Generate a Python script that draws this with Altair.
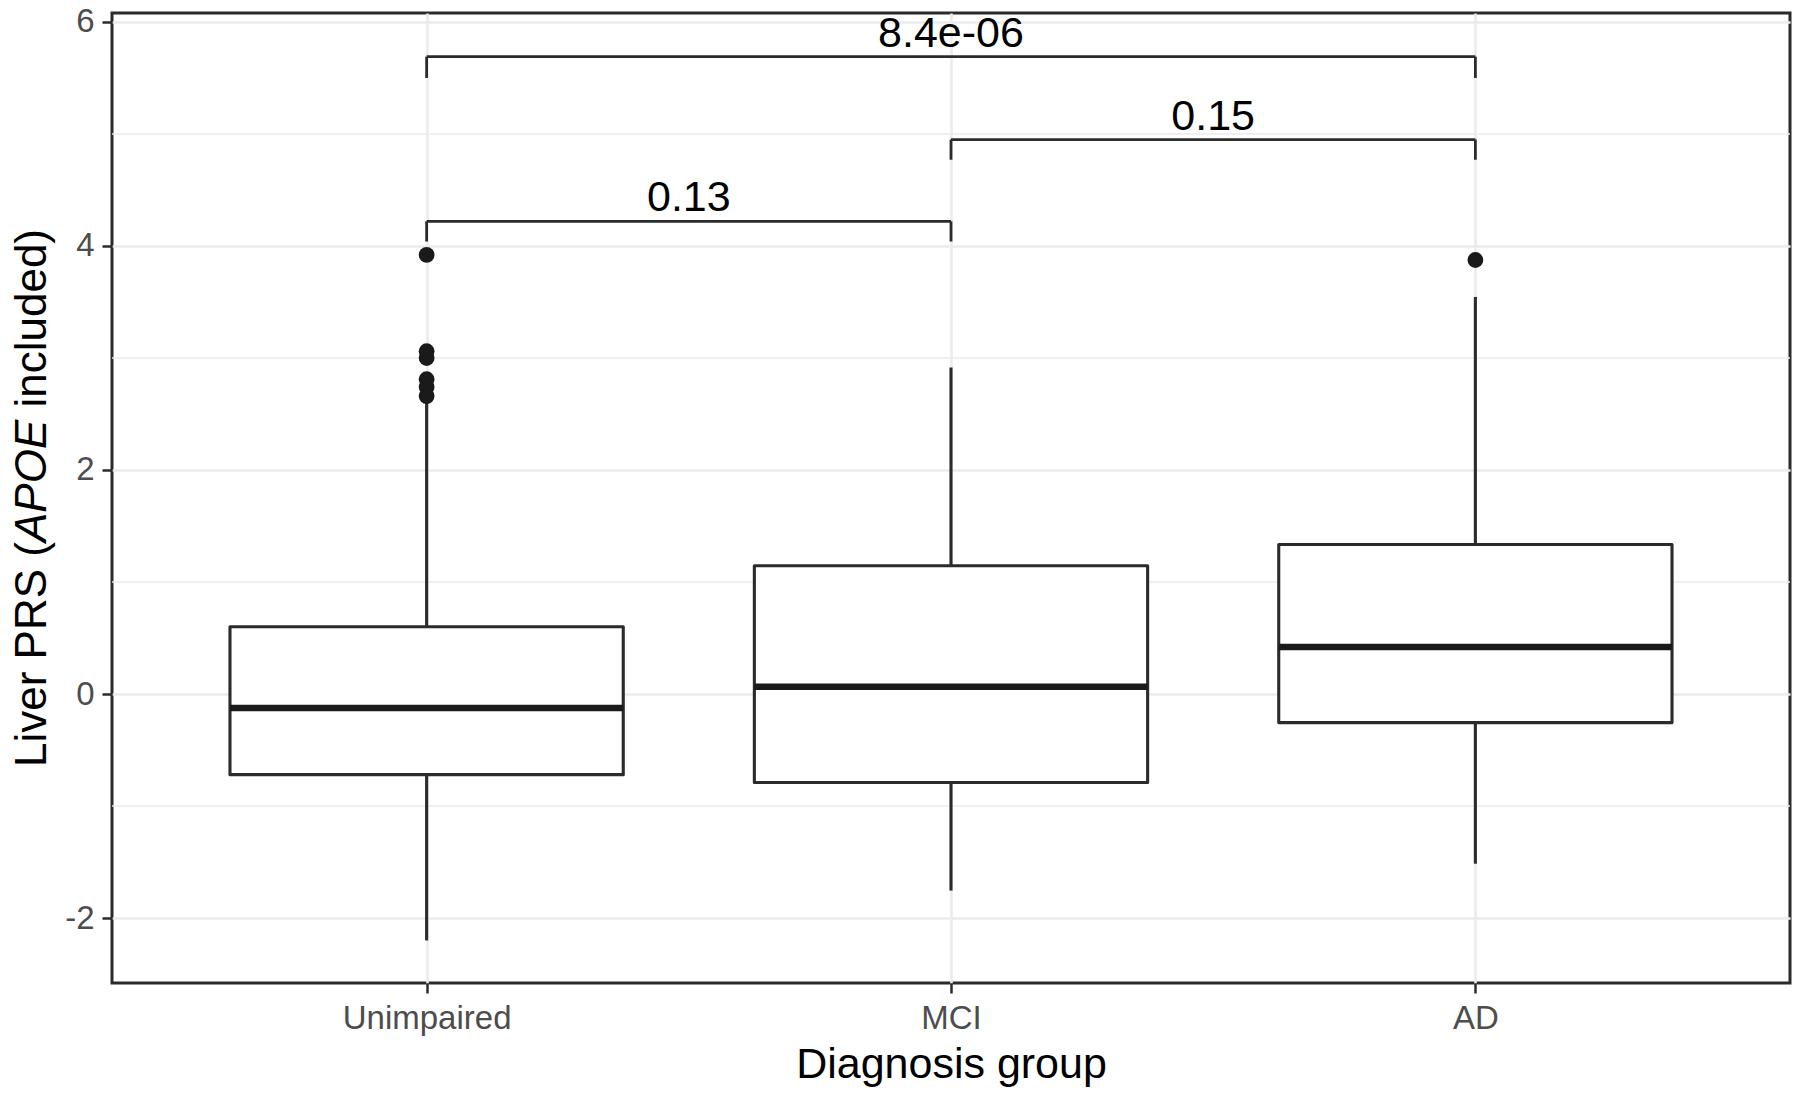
import altair as alt
import pandas as pd

# ---- data ----
groups = ["Unimpaired", "MCI", "AD"]
group_pos = [1, 2, 3]
q1 = [-0.72, -0.79, -0.255]
median = [-0.125, 0.065, 0.42]
q3 = [0.60, 1.145, 1.335]
whisker_low = [-2.20, -1.755, -1.515]
whisker_high = [2.60, 2.915, 3.545]

outlier_pos = [1, 1, 1, 1, 1, 1, 3]
outlier_value = [3.92, 3.06, 3.00, 2.81, 2.74, 2.66, 3.875]

bracket_from = [1, 2, 1]
bracket_to = [2, 3, 3]
bracket_y = [4.22, 4.95, 5.69]
bracket_tip = [4.04, 4.77, 5.50]
bracket_label = ["0.13", "0.15", "8.4e-06"]

major_breaks = [-2, 0, 2, 4, 6]
minor_breaks = [-1, 1, 3, 5]

# ---- layout / style ----
W, H = 1678, 970
HALF = 0.375
FONT = "Liberation Sans"
INK = "#2b2b2b"

boxes = pd.DataFrame({
    "group": groups, "pos": group_pos, "q1": q1, "median": median, "q3": q3,
    "wlo": whisker_low, "whi": whisker_high,
})
boxes["lo"] = boxes["pos"] - HALF
boxes["hi"] = boxes["pos"] + HALF

outliers = pd.DataFrame({"pos": outlier_pos, "value": outlier_value})
brackets = pd.DataFrame({"x1": bracket_from, "x2": bracket_to, "y": bracket_y,
                         "tip": bracket_tip, "label": bracket_label})
brackets["mid"] = (brackets["x1"] + brackets["x2"]) / 2
tips = pd.concat([
    pd.DataFrame({"x": bracket_from, "tip": bracket_tip, "y": bracket_y}),
    pd.DataFrame({"x": bracket_to, "tip": bracket_tip, "y": bracket_y}),
])
minor = pd.DataFrame({"v": minor_breaks})

xscale = alt.Scale(domain=[0.4, 3.6], nice=False, zero=False)
yscale = alt.Scale(domain=[-2.58, 6.08], nice=False, zero=False)
xaxis = alt.Axis(values=group_pos, labelExpr=f"{groups}[datum.value - 1]",
                 title="Diagnosis group", grid=True, labelPadding=9,
                 titlePadding=8, labelOverlap=False, labelFlush=False)
yaxis = alt.Axis(values=major_breaks, title="", grid=True, labelPadding=8,
                 labelExpr="datum.value < 0 ? '-' + abs(datum.value) : '' + datum.value",
                 labelOverlap=False, labelFlush=False)


def X(field):
    return alt.X(field, type="quantitative", scale=xscale, axis=xaxis)


def Y(field):
    return alt.Y(field, type="quantitative", scale=yscale, axis=yaxis)


minor_grid = alt.Chart(minor).mark_rule(color="#EBEBEB", strokeWidth=1.4).encode(y=Y("v"))

whisk_up = alt.Chart(boxes).mark_rule(color=INK, strokeWidth=3.1).encode(
    x=X("pos"), y=Y("q3"), y2="whi")
whisk_dn = alt.Chart(boxes).mark_rule(color=INK, strokeWidth=3.1).encode(
    x=X("pos"), y=Y("wlo"), y2="q1")
box = alt.Chart(boxes).mark_bar(fill="white", stroke=INK, strokeWidth=3.1,
                                strokeJoin="round").encode(
    x=X("lo"), x2="hi", y=Y("q1"), y2="q3")
med = alt.Chart(boxes).mark_rule(color="#1a1a1a", strokeWidth=6.5).encode(
    x=X("lo"), x2="hi", y=Y("median"))
pts = alt.Chart(outliers).mark_circle(color="#1a1a1a", opacity=1, size=250).encode(
    x=X("pos"), y=Y("value"))

br_h = alt.Chart(brackets).mark_rule(color=INK, strokeWidth=2.8).encode(
    x=X("x1"), x2="x2", y=Y("y"))
br_v = alt.Chart(tips).mark_rule(color=INK, strokeWidth=2.8).encode(
    x=X("x"), y=Y("tip"), y2="y")
br_t = alt.Chart(brackets).mark_text(font=FONT, fontSize=43, color="black",
                                     baseline="alphabetic", dy=-10).encode(
    x=X("mid"), y=Y("y"), text="label:N")

# y-axis title with italic APOE, built from three text pieces
TFS = 44
SPACE = 0.278
pieces = [("Liver PRS (", "normal", 5.112), ("APOE", "italic", 2.779 + SPACE),
          ("included)", "normal", 4.057)]
total = sum(p[2] for p in pieces) * TFS
start = H / 2 + total / 2
one = pd.DataFrame({"k": [0]})
title_layers = []
for txt, style, em in pieces:
    title_layers.append(
        alt.Chart(one).mark_text(font=FONT, fontSize=TFS, fontStyle=style, color="black",
                                 angle=270, align="left", baseline="alphabetic").encode(
            x=alt.value(-66), y=alt.value(start), text=alt.value(txt))
    )
    start -= em * TFS

chart = alt.layer(minor_grid, whisk_up, whisk_dn, box, med, pts, br_h, br_v, br_t,
                  *title_layers).properties(
    width=W, height=H,
    padding={"left": 104, "top": 5, "right": 2, "bottom": 106},
    autosize=alt.AutoSizeParams(type="none"),
    background="white",
).configure_view(
    stroke=INK, strokeWidth=3
).configure_axis(
    domain=False, tickSize=10, tickWidth=2.5, tickColor=INK,
    labelFont=FONT, labelFontSize=33, labelColor="#4D4D4D",
    titleFont=FONT, titleFontSize=43, titleColor="black", titleFontWeight="normal",
    gridColor="#EBEBEB", gridWidth=2.6,
)

chart.save("out.html", embed_options={"renderer": "svg", "actions": False})
